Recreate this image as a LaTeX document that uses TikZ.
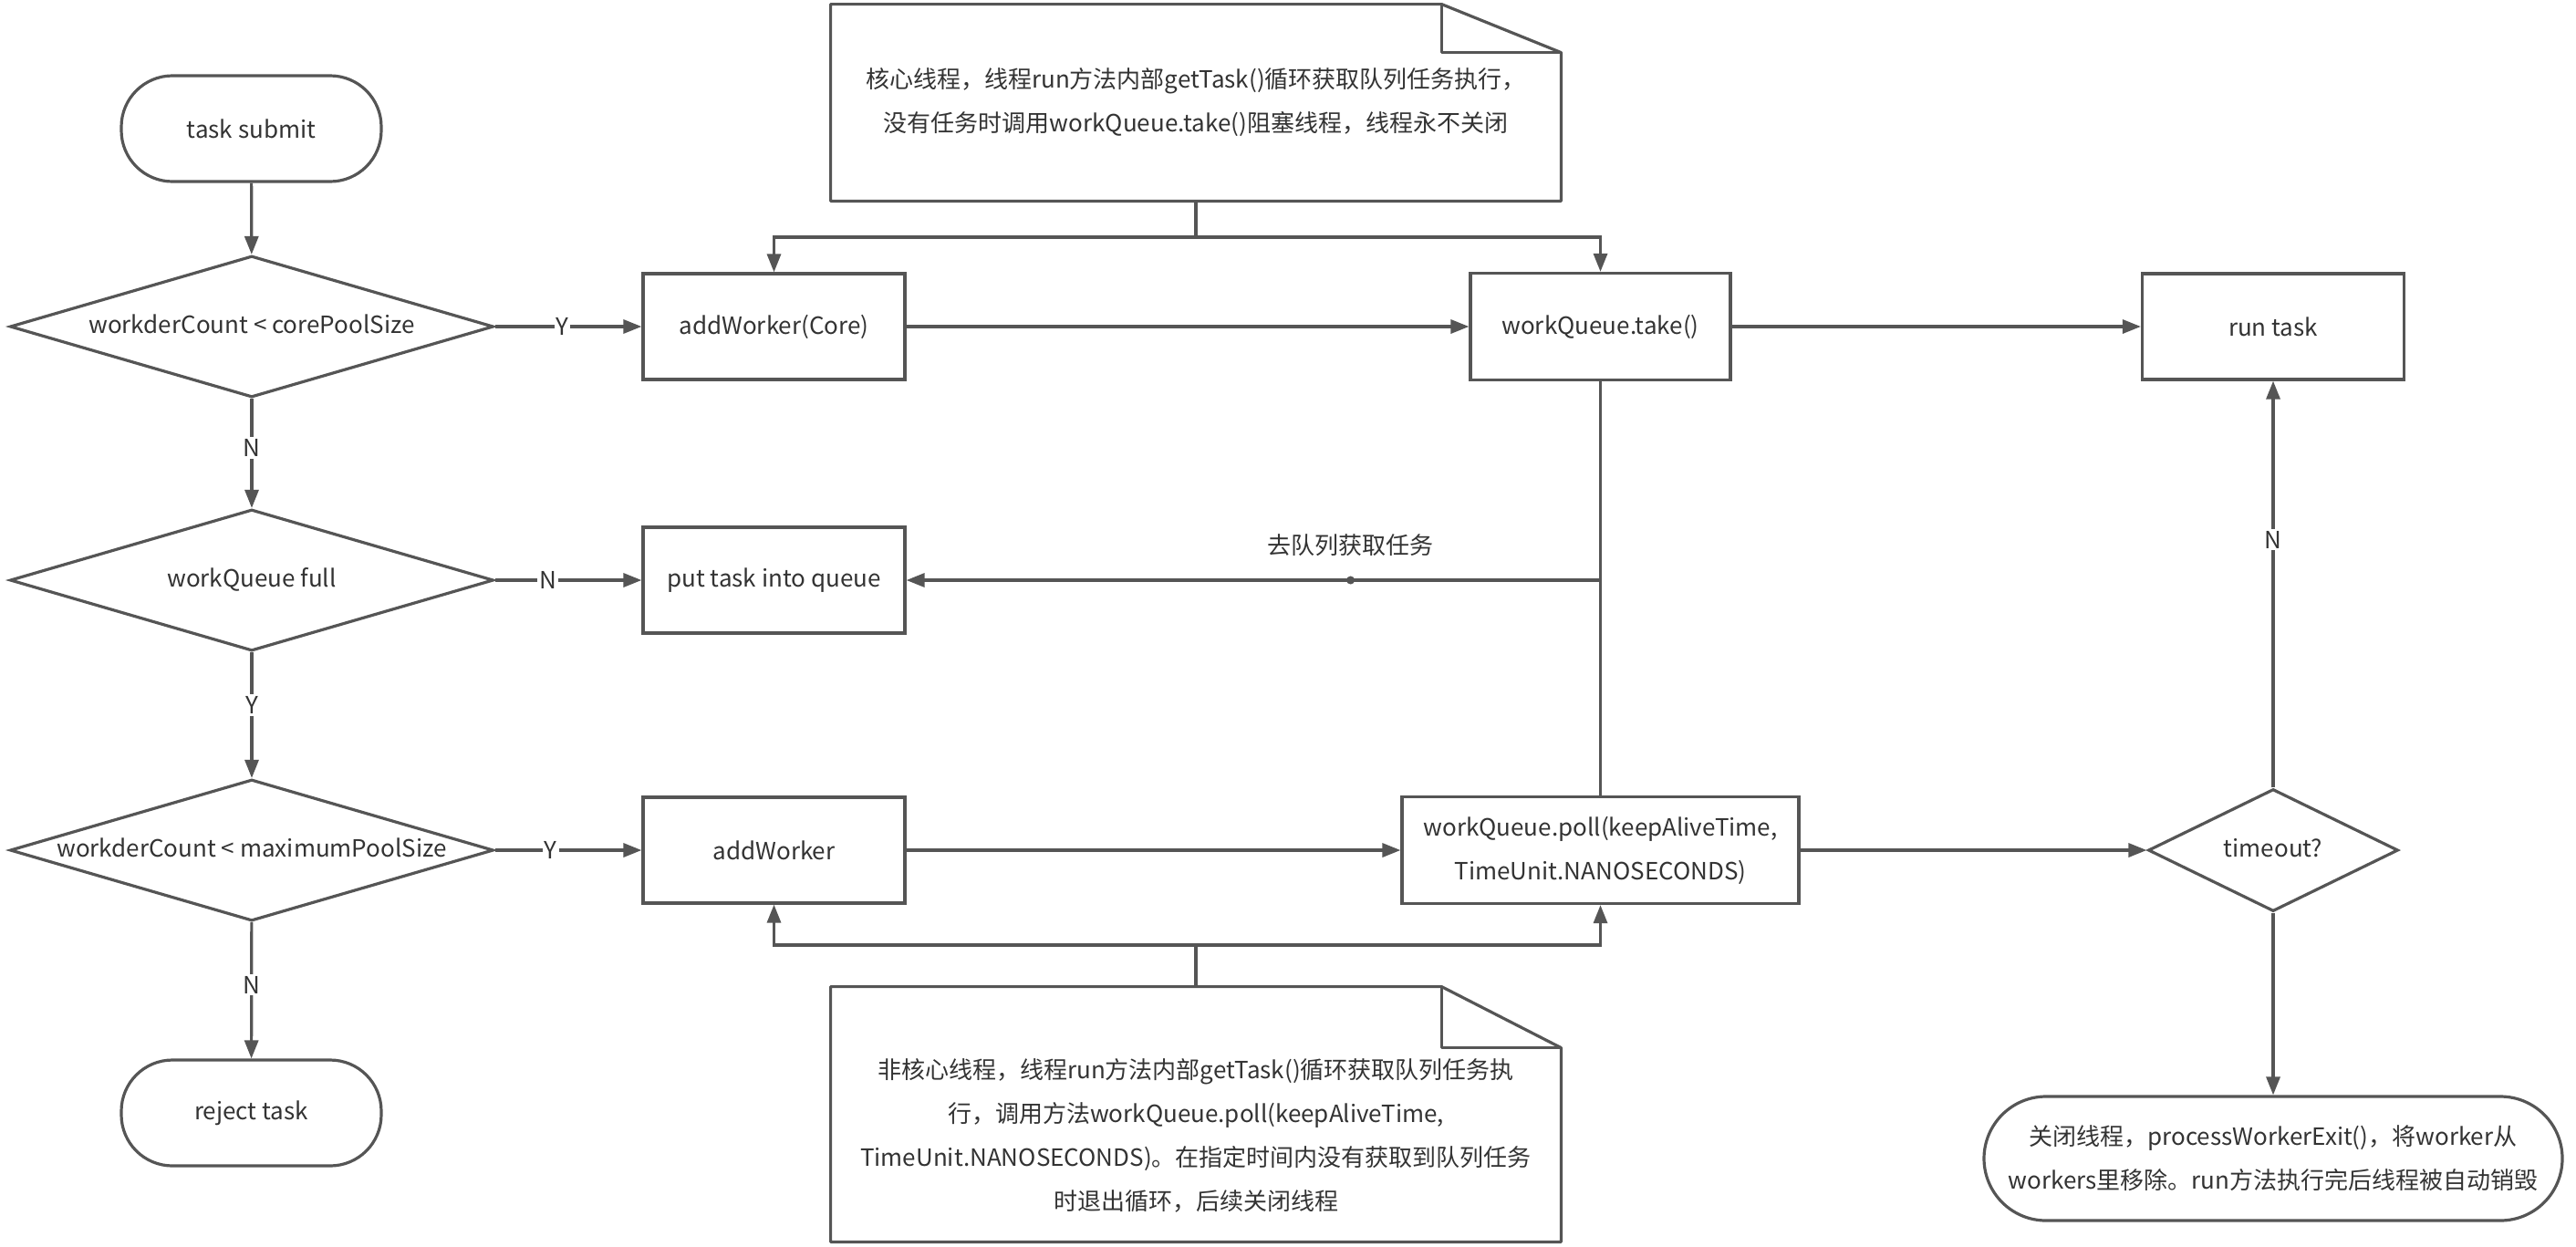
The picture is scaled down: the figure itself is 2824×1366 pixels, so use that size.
\documentclass[tikz,border=0pt]{standalone}
\usepackage{fontspec}
\setmainfont{Noto Sans CJK SC}
\usetikzlibrary{arrows.meta,shapes.geometric,calc}

\definecolor{linegray}{HTML}{555555}
\definecolor{textgray}{HTML}{333333}

\tikzset{
  every node/.style={font=\fontsize{13}{24}\selectfont, text=textgray},
  flow/.style={draw=linegray, line width=1.6pt},
  arr/.style={flow, -{Triangle[length=10pt,width=7.5pt]}},
  terminal/.style={draw=linegray, line width=1.6pt, rounded corners=28pt, minimum width=142.5pt, minimum height=58pt},
  process/.style={draw=linegray, line width=1.6pt, minimum width=143.5pt, minimum height=58pt, align=center},
  decision/.style={draw=linegray, line width=1.6pt, diamond, aspect=3.42, minimum width=265pt, minimum height=77.5pt, inner sep=0pt, text height=7pt, text depth=0pt},
  yn/.style={fill=white, inner sep=1pt},
  note/.style={minimum width=400pt, align=center},
}

\begin{document}
\begin{tikzpicture}[x=0.5pt, y=-0.5pt]
  \useasboundingbox (0,0) rectangle (2824,1366);

  % Left column
  \node[terminal] (submit) at (275.5,141) {task submit};
  \node[decision] (core) at (276,358) {workderCount < corePoolSize};
  \node[decision] (full) at (276,636) {workQueue full};
  \node[decision] (max) at (276,932) {workderCount < maximumPoolSize};
  \node[terminal] (reject) at (275.5,1220) {reject task};

  % Middle column
  \node[process] (addcore) at (848.5,358) {addWorker(Core)};
  \node[process] (putq) at (848.5,636) {put task into queue};
  \node[process] (addw) at (848.5,932) {addWorker};
  \node[process, minimum width=142.5pt, minimum height=58.5pt] (take) at (1754.5,358) {workQueue.take()};
  \node[process, minimum width=217.5pt, minimum height=58.5pt] (poll) at (1754.5,932) {workQueue.poll(keepAliveTime,\\TimeUnit.NANOSECONDS)};

  % Right column
  \node[process] (run) at (2492,358) {run task};
  \node[decision, aspect=2.04, minimum width=137pt, minimum height=67pt] (timeout) at (2492,932) {timeout?};
  \node[terminal, rounded corners=34pt, minimum width=317pt, minimum height=68pt, align=center, inner sep=0pt] (close) at (2492,1270)
    {关闭线程，processWorkerExit()，将worker从\\workers里移除。run方法执行完后线程被自动销毁};

  % Notes
  \node[note, minimum height=107.5pt] (corenote) at (1311,112.5)
    {核心线程，线程run方法内部getTask()循环获取队列任务执行，\\没有任务时调用workQueue.take()阻塞线程，线程永不关闭};
  \node[note, minimum height=139.5pt] (pollnote) at (1311,1221.5) {};
  \node[align=center] (pollnotetext) at (1311,1245)
    {非核心线程，线程run方法内部getTask()循环获取队列任务执\\行，调用方法workQueue.poll(keepAliveTime,\\TimeUnit.NANOSECONDS)。在指定时间内没有获取到队列任务\\时退出循环，后续关闭线程};

  \draw[flow, line join=round] (corenote.north west) -- ($(corenote.north east)+(-131,0)$) -- ($(corenote.north east)+(0,53)$)
    -- (corenote.south east) -- (corenote.south west) -- cycle;
  \draw[flow, line join=round] ($(corenote.north east)+(-131,0)$) -- ($(corenote.north east)+(-131,53)$) -- ($(corenote.north east)+(0,53)$);
  \draw[flow, line join=round] (pollnote.north west) -- ($(pollnote.north east)+(-131,0)$) -- ($(pollnote.north east)+(0,67)$)
    -- (pollnote.south east) -- (pollnote.south west) -- cycle;
  \draw[flow, line join=round] ($(pollnote.north east)+(-131,0)$) -- ($(pollnote.north east)+(-131,67)$) -- ($(pollnote.north east)+(0,67)$);

  % Decisions
  \draw[arr] (submit) -- (core);
  \draw[arr] (core) -- node[yn, pos=0.46] {Y} (addcore);
  \draw[arr] (core) -- node[yn, pos=0.45] {N} (full);
  \draw[arr] (full) -- node[yn, pos=0.36] {N} (putq);
  \draw[arr] (full) -- node[yn, pos=0.42] {Y} (max);
  \draw[arr] (max) -- node[yn, pos=0.38] {Y} (addw);
  \draw[arr] (max) -- node[yn, pos=0.46] {N} (reject);

  % Workers
  \draw[arr] (addcore) -- (take);
  \draw[arr] (take) -- (run);
  \draw[arr] (addw) -- (poll);
  \draw[arr] (poll) -- (timeout);
  \draw[arr] (timeout) -- node[yn, pos=0.61] {N} (run);
  \draw[arr] (timeout) -- (close);

  % Queue fetch
  \draw[flow] (take.south) -- (poll.north);
  \draw[arr] (take.south |- putq.east) -- node[pos=0.36, circle, fill=linegray, inner sep=1.6pt] (dot) {}
    node[pos=0.36, above=9pt] (fetch) {去队列获取任务} (putq.east);

  % Note links
  \coordinate (corebus) at (1311,260);
  \coordinate (pollbus) at (1311,1036);
  \draw[flow] (corenote.south) -- (corebus);
  \draw[arr] (corebus) -| (addcore.north);
  \draw[arr] (corebus) -| (take.north);
  \draw[flow] (pollnote.north) -- (pollbus);
  \draw[arr] (pollbus) -| (addw.south);
  \draw[arr] (pollbus) -| (poll.south);
\end{tikzpicture}
\end{document}
